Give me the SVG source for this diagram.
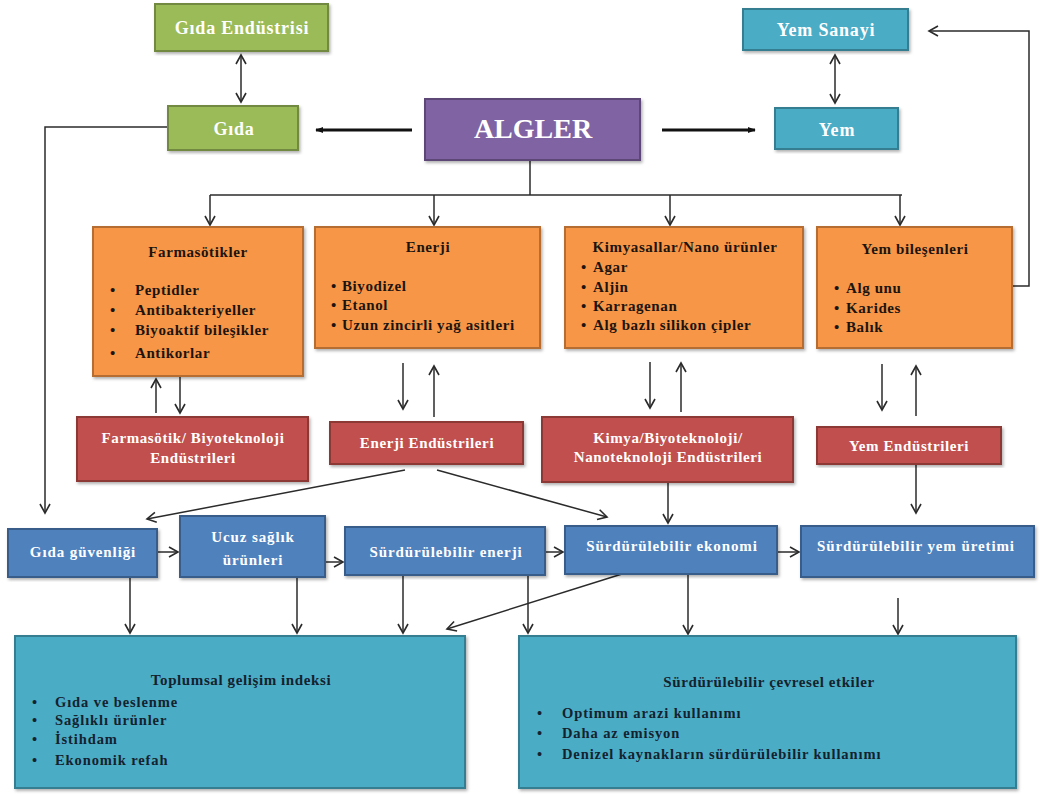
<svg xmlns="http://www.w3.org/2000/svg" width="1040" height="794" viewBox="0 0 1040 794">
<defs>
<marker id="open" viewBox="0 0 12 12" refX="10" refY="6" markerWidth="12" markerHeight="12" markerUnits="userSpaceOnUse" orient="auto-start-reverse">
<path d="M1,1 L10,6 L1,11" fill="none" stroke="#2b2b2b" stroke-width="1.6"/>
</marker>
<marker id="solid" viewBox="0 0 10 10" refX="9" refY="5" markerWidth="8" markerHeight="8" markerUnits="userSpaceOnUse" orient="auto">
<path d="M0,1 L10,5 L0,9 Z" fill="#111"/>
</marker>
<filter id="sh" x="-5%" y="-5%" width="110%" height="115%">
<feDropShadow dx="1.5" dy="2" stdDeviation="1.5" flood-color="#000" flood-opacity="0.3"/>
</filter>
</defs>
<style>
text{font-family:"Liberation Serif","Times New Roman",serif;font-weight:bold}
.g rect,.p rect,.t rect,.o rect,.r rect,.b rect,.bt rect{filter:url(#sh);stroke-width:2}
.g rect{fill:#9BBB59;stroke:#71893F}
.p rect{fill:#8064A2;stroke:#5C4776}
.t rect{fill:#4BACC6;stroke:#357D91}
.o rect{fill:#F79646;stroke:#B66D31}
.r rect{fill:#C0504D;stroke:#8C3836}
.b rect{fill:#4F81BD;stroke:#385D8A}
.bt rect{fill:#4BACC6;stroke:#357D91}
.w{fill:#fff;font-size:18px;letter-spacing:0.8px;text-anchor:middle}
.ws{fill:#fff;font-size:15px;letter-spacing:0.6px;text-anchor:middle}
.b .ws{letter-spacing:0.9px}
.dk{fill:#1c1410;font-size:15px;letter-spacing:0.6px}
.dc{fill:#1c1410;font-size:15px;letter-spacing:0.6px;text-anchor:middle}
.nv{fill:#14222e;font-size:14.5px;letter-spacing:0.9px}
.nvc{fill:#14222e;font-size:15px;letter-spacing:0.6px;text-anchor:middle}
.c line,.c path{stroke:#2b2b2b;stroke-width:1.5;fill:none}
.c .thick{stroke:#111;stroke-width:3}
</style>

<g class="c" id="connectors">
<line x1="241" y1="55" x2="241" y2="102" marker-start="url(#open)" marker-end="url(#open)"/>
<line x1="835" y1="55" x2="835" y2="103" marker-start="url(#open)" marker-end="url(#open)"/>
<line class="thick" x1="412" y1="130" x2="316" y2="130" marker-end="url(#solid)"/>
<line class="thick" x1="662" y1="130" x2="755" y2="130" marker-end="url(#solid)"/>
<path d="M168,127 H45 V513" marker-end="url(#open)"/>
<path d="M1012,286 H1029 V31 H929" marker-end="url(#open)"/>
<path d="M530,160 V195"/>
<path d="M210,195 H902"/>
<line x1="210" y1="195" x2="210" y2="225" marker-end="url(#open)"/>
<line x1="434" y1="195" x2="434" y2="225" marker-end="url(#open)"/>
<line x1="670" y1="195" x2="670" y2="225" marker-end="url(#open)"/>
<line x1="900" y1="195" x2="900" y2="225" marker-end="url(#open)"/>
<line x1="156" y1="413" x2="156" y2="379" marker-end="url(#open)"/>
<line x1="180" y1="377" x2="180" y2="413" marker-end="url(#open)"/>
<line x1="403" y1="363" x2="403" y2="409" marker-end="url(#open)"/>
<line x1="434" y1="417" x2="434" y2="366" marker-end="url(#open)"/>
<line x1="650" y1="362" x2="650" y2="408" marker-end="url(#open)"/>
<line x1="681" y1="412" x2="681" y2="363" marker-end="url(#open)"/>
<line x1="882" y1="364" x2="882" y2="410" marker-end="url(#open)"/>
<line x1="916" y1="416" x2="916" y2="366" marker-end="url(#open)"/>
<line x1="405" y1="470" x2="147" y2="519" marker-end="url(#open)"/>
<line x1="437" y1="470" x2="607" y2="517" marker-end="url(#open)"/>
<line x1="668" y1="482" x2="668" y2="523" marker-end="url(#open)"/>
<line x1="916" y1="464" x2="916" y2="513" marker-end="url(#open)"/>
<line x1="157" y1="552" x2="178" y2="552" marker-end="url(#open)"/>
<line x1="325" y1="562" x2="343" y2="562" marker-end="url(#open)"/>
<line x1="545" y1="552" x2="563" y2="552" marker-end="url(#open)"/>
<line x1="777" y1="552" x2="799" y2="552" marker-end="url(#open)"/>
<line x1="130" y1="577" x2="130" y2="633" marker-end="url(#open)"/>
<line x1="297" y1="577" x2="297" y2="633" marker-end="url(#open)"/>
<line x1="403" y1="575" x2="403" y2="633" marker-end="url(#open)"/>
<line x1="528" y1="575" x2="528" y2="633" marker-end="url(#open)"/>
<line x1="622" y1="574" x2="447" y2="629" marker-end="url(#open)"/>
<line x1="688" y1="574" x2="688" y2="634" marker-end="url(#open)"/>
<line x1="898" y1="598" x2="898" y2="634" marker-end="url(#open)"/>
</g>

<g id="gida-endustrisi" class="g"><rect x="155" y="4" width="173" height="47"/><text class="w" x="242" y="34">Gıda Endüstrisi</text></g>
<g id="gida" class="g"><rect x="168" y="106" width="130" height="44"/><text class="w" x="234" y="135">Gıda</text></g>
<g id="algler" class="p"><rect x="425" y="99" width="215" height="61"/><text x="533" y="138" style="fill:#fff;font-size:28px;text-anchor:middle">ALGLER</text></g>
<g id="yem-sanayi" class="t"><rect x="743" y="9" width="165" height="41"/><text class="w" x="826" y="36">Yem Sanayi</text></g>
<g id="yem" class="t"><rect x="775" y="108" width="123" height="41"/><text class="w" x="837" y="136">Yem</text></g>

<g id="farmasotikler" class="o"><rect x="93" y="227" width="210" height="149"/>
<text class="dc" x="198" y="257">Farmasötikler</text>
<text class="dk" x="110" y="295">•</text><text class="dk" x="135" y="295">Peptidler</text>
<text class="dk" x="110" y="315">•</text><text class="dk" x="135" y="315">Antibakteriyeller</text>
<text class="dk" x="110" y="335">•</text><text class="dk" x="135" y="335">Biyoaktif bileşikler</text>
<text class="dk" x="110" y="358">•</text><text class="dk" x="135" y="358">Antikorlar</text>
</g>
<g id="enerji" class="o"><rect x="315" y="227" width="225" height="121"/>
<text class="dc" x="428" y="252">Enerji</text>
<text class="dk" x="331" y="291">•</text><text class="dk" x="342" y="291">Biyodizel</text>
<text class="dk" x="331" y="310">•</text><text class="dk" x="342" y="310">Etanol</text>
<text class="dk" x="331" y="330">•</text><text class="dk" x="342" y="330">Uzun zincirli yağ asitleri</text>
</g>
<g id="kimyasallar" class="o"><rect x="565" y="227" width="238" height="121"/>
<text class="dc" x="685" y="252">Kimyasallar/Nano ürünler</text>
<text class="dk" x="581" y="272">•</text><text class="dk" x="593" y="272">Agar</text>
<text class="dk" x="581" y="292">•</text><text class="dk" x="593" y="292">Aljin</text>
<text class="dk" x="581" y="311">•</text><text class="dk" x="593" y="311">Karragenan</text>
<text class="dk" x="581" y="330">•</text><text class="dk" x="593" y="330">Alg bazlı silikon çipler</text>
</g>
<g id="yem-bilesenleri" class="o"><rect x="817" y="227" width="195" height="121"/>
<text class="dc" x="915" y="254">Yem bileşenleri</text>
<text class="dk" x="834" y="293">•</text><text class="dk" x="846" y="293">Alg unu</text>
<text class="dk" x="834" y="313">•</text><text class="dk" x="846" y="313">Karides</text>
<text class="dk" x="834" y="332">•</text><text class="dk" x="846" y="332">Balık</text>
</g>

<g id="farma-endustri" class="r"><rect x="77" y="417" width="231" height="64"/>
<text class="ws" x="193" y="443">Farmasötik/ Biyoteknoloji</text>
<text class="ws" x="193" y="463">Endüstrileri</text></g>
<g id="enerji-endustri" class="r"><rect x="330" y="422" width="193" height="42"/>
<text class="ws" x="427" y="448">Enerji Endüstrileri</text></g>
<g id="kimya-endustri" class="r"><rect x="542" y="417" width="251" height="65"/>
<text class="ws" x="668" y="443">Kimya/Biyoteknoloji/</text>
<text class="ws" x="668" y="462">Nanoteknoloji Endüstrileri</text></g>
<g id="yem-endustri" class="r"><rect x="817" y="427" width="184" height="37"/>
<text class="ws" x="909" y="451">Yem Endüstrileri</text></g>

<g id="gida-guvenligi" class="b"><rect x="8" y="529" width="149" height="48"/><text class="ws" x="83" y="557">Gıda güvenliği</text></g>
<g id="ucuz-saglik" class="b"><rect x="180" y="516" width="145" height="61"/><text class="ws" x="253" y="542">Ucuz sağlık</text><text class="ws" x="253" y="565">ürünleri</text></g>
<g id="surd-enerji" class="b"><rect x="345" y="527" width="200" height="48"/><text class="ws" x="446" y="557">Sürdürülebilir enerji</text></g>
<g id="surd-ekonomi" class="b"><rect x="565" y="526" width="212" height="48"/><text class="ws" x="672" y="551">Sürdürülebilir ekonomi</text></g>
<g id="surd-yem" class="b"><rect x="801" y="526" width="233" height="51"/><text class="ws" x="916" y="551">Sürdürülebilir yem üretimi</text></g>

<g id="toplumsal" class="bt"><rect x="15" y="636" width="450" height="152"/>
<text class="nvc" x="241" y="685">Toplumsal gelişim indeksi</text>
<text class="nv" x="32" y="707">•</text><text class="nv" x="55" y="707">Gıda ve beslenme</text>
<text class="nv" x="32" y="725">•</text><text class="nv" x="55" y="725">Sağlıklı ürünler</text>
<text class="nv" x="32" y="744">•</text><text class="nv" x="55" y="744">İstihdam</text>
<text class="nv" x="32" y="765">•</text><text class="nv" x="55" y="765">Ekonomik refah</text>
</g>
<g id="cevresel" class="bt"><rect x="519" y="636" width="497" height="152"/>
<text class="nvc" x="769" y="687">Sürdürülebilir çevresel etkiler</text>
<text class="nv" x="537" y="718">•</text><text class="nv" x="562" y="718">Optimum arazi kullanımı</text>
<text class="nv" x="537" y="738">•</text><text class="nv" x="562" y="738">Daha az emisyon</text>
<text class="nv" x="537" y="759">•</text><text class="nv" x="562" y="759">Denizel kaynakların sürdürülebilir kullanımı</text>
</g>
</svg>
